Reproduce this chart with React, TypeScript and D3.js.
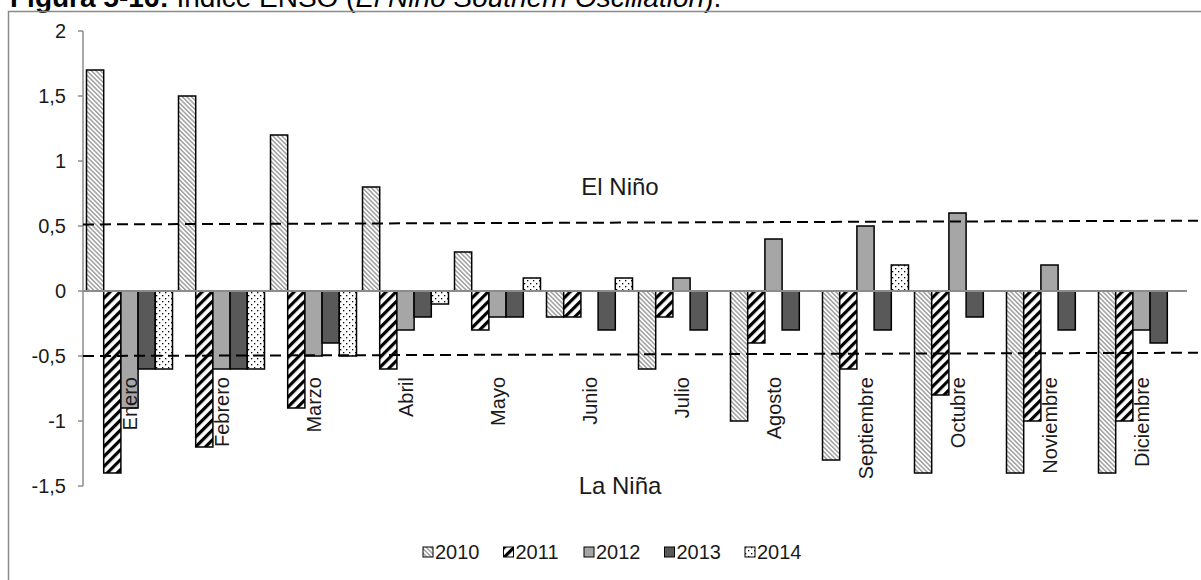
import React from "react";
import * as d3 from "d3";

const months = ["Enero", "Febrero", "Marzo", "Abril", "Mayo", "Junio", "Julio", "Agosto", "Septiembre", "Octubre", "Noviembre", "Diciembre"];
const years = ["2010", "2011", "2012", "2013", "2014"];
const v2010 = [1.7, 1.5, 1.2, 0.8, 0.3, -0.2, -0.6, -1.0, -1.3, -1.4, -1.4, -1.4];
const v2011 = [-1.4, -1.2, -0.9, -0.6, -0.3, -0.2, -0.2, -0.4, -0.6, -0.8, -1.0, -1.0];
const v2012 = [-0.9, -0.6, -0.5, -0.3, -0.2, 0, 0.1, 0.4, 0.5, 0.6, 0.2, -0.3];
const v2013 = [-0.6, -0.6, -0.4, -0.2, -0.2, -0.3, -0.3, -0.3, -0.3, -0.2, -0.3, -0.4];
const v2014 = [-0.6, -0.6, -0.5, -0.1, 0.1, 0.1, 0, 0, 0.2, 0, 0, 0];
const yTicks = [2, 1.5, 1, 0.5, 0, -0.5, -1, -1.5];
// threshold lines (left value, right value) as drawn in the figure
const upperLine = [0.512, 0.541];
const lowerLine = [-0.5, -0.475];
const upperLabel = "El Niño";
const lowerLabel = "La Niña";

const series = [v2010, v2011, v2012, v2013, v2014];
const fills = ["url(#p2010)", "url(#p2011)", "#a6a6a6", "#595959", "url(#p2014)"];

const FONT = "Arial, 'Liberation Sans', sans-serif";

export default function App() {
  const left = 83, right = 1187, top = 31, bottom = 486;
  const y = d3.scaleLinear().domain([2, -1.5]).range([top, bottom]);
  const x0 = d3.scaleBand<string>().domain(months).range([left, right]).paddingInner(0).paddingOuter(0);
  const x1 = d3.scaleBand<string>().domain(years).range([3.5, x0.bandwidth() - 2.5]);
  const fmt = d3.formatLocale({ decimal: ",", thousands: ".", grouping: [3], currency: ["", "€"], minus: "-" }).format("~g");
  const lineX = d3.scaleLinear().domain([0, 1]).range([left, 1198]);

  return (
    <svg width={1201} height={580} style={{ position: "fixed", left: 0, top: 0, background: "#fff" }} fontFamily={FONT}>
      <defs>
        <pattern id="p2010" patternUnits="userSpaceOnUse" width={3.2} height={3.2} patternTransform="rotate(-45)">
          <rect width={3.2} height={3.2} fill="#fff" />
          <rect width={1.5} height={3.2} fill="#a0a0a0" />
        </pattern>
        <pattern id="p2011" patternUnits="userSpaceOnUse" width={7} height={7} patternTransform="rotate(45)">
          <rect width={7} height={7} fill="#fff" />
          <rect width={3.2} height={7} fill="#000" />
        </pattern>
        <pattern id="p2014" patternUnits="userSpaceOnUse" width={6} height={6}>
          <rect width={6} height={6} fill="#fff" />
          <rect x={1} y={1} width={1.3} height={1.3} fill="#000" />
          <rect x={4} y={4} width={1.3} height={1.3} fill="#000" />
        </pattern>
      </defs>
      <rect x={0} y={0} width={1201} height={580} fill="#fff" />
      {/* title */}
      <text x={10} y={7} fontSize={28} fill="#000">
        <tspan fontWeight="bold">Figura 5-16:</tspan>
        <tspan> Índice ENSO (</tspan>
        <tspan fontStyle="italic">El Niño Southern Oscillation</tspan>
        <tspan>).</tspan>
      </text>
      {/* outer frame */}
      <rect x={8.5} y={11.5} width={1220} height={600} fill="none" stroke="#8a8a8a" strokeWidth={1.5} />

      {/* bars */}
      {months.map((m, i) => (
        <g key={m} transform={`translate(${x0(m)},0)`}>
          {series.map((s, k) => {
            const v = s[i];
            if (v === 0) return null;
            const y0 = y(0), y1 = y(v);
            return (
              <rect key={k} x={x1(years[k])} y={Math.min(y0, y1)} width={x1.bandwidth()} height={Math.abs(y1 - y0)}
                fill={fills[k]} stroke="#000" strokeWidth={1.5} />
            );
          })}
        </g>
      ))}

      {/* zero line */}
      <line x1={left} x2={right} y1={y(0)} y2={y(0)} stroke="#8c8c8c" strokeWidth={2} />
      {/* y axis */}
      <line x1={left} x2={left} y1={y(2)} y2={y(-1.5)} stroke="#8c8c8c" strokeWidth={1.5} />
      {yTicks.map((t) => (
        <g key={t}>
          <line x1={left - 5} x2={left} y1={y(t)} y2={y(t)} stroke="#8c8c8c" strokeWidth={1.5} />
          <text x={66} y={y(t)} dy="0.35em" textAnchor="end" fontSize={20} fill="#1a1a1a">{fmt(t)}</text>
        </g>
      ))}

      {/* threshold lines */}
      <line x1={lineX(0)} x2={lineX(1)} y1={y(upperLine[0])} y2={y(upperLine[1])} stroke="#000" strokeWidth={2} strokeDasharray="11,6" />
      <line x1={lineX(0)} x2={lineX(1)} y1={y(lowerLine[0])} y2={y(lowerLine[1])} stroke="#000" strokeWidth={2} strokeDasharray="11,6" />
      <text x={620} y={y(0.8)} dy="0.35em" textAnchor="middle" fontSize={24} fill="#1a1a1a">{upperLabel}</text>
      <text x={620} y={y(-1.5)} dy="0.35em" textAnchor="middle" fontSize={24} fill="#1a1a1a">{lowerLabel}</text>

      {/* category labels */}
      {months.map((m) => {
        const cx = (x0(m) as number) + x0.bandwidth() / 2 + 1;
        const cy = 377;
        return (
          <text key={m} transform={`translate(${cx},${cy}) rotate(-90)`} textAnchor="end" dy="0.35em" fontSize={20} fill="#1a1a1a">{m}</text>
        );
      })}

      {/* legend */}
      {years.map((yr, k) => {
        const lx = 423 + k * 80.5;
        return (
          <g key={yr}>
            <rect x={lx} y={547} width={10} height={10} fill={fills[k]} stroke="#000" strokeWidth={1} />
            <text x={lx + 12} y={552} dy="0.35em" fontSize={20} fill="#1a1a1a">{yr}</text>
          </g>
        );
      })}
    </svg>
  );
}
